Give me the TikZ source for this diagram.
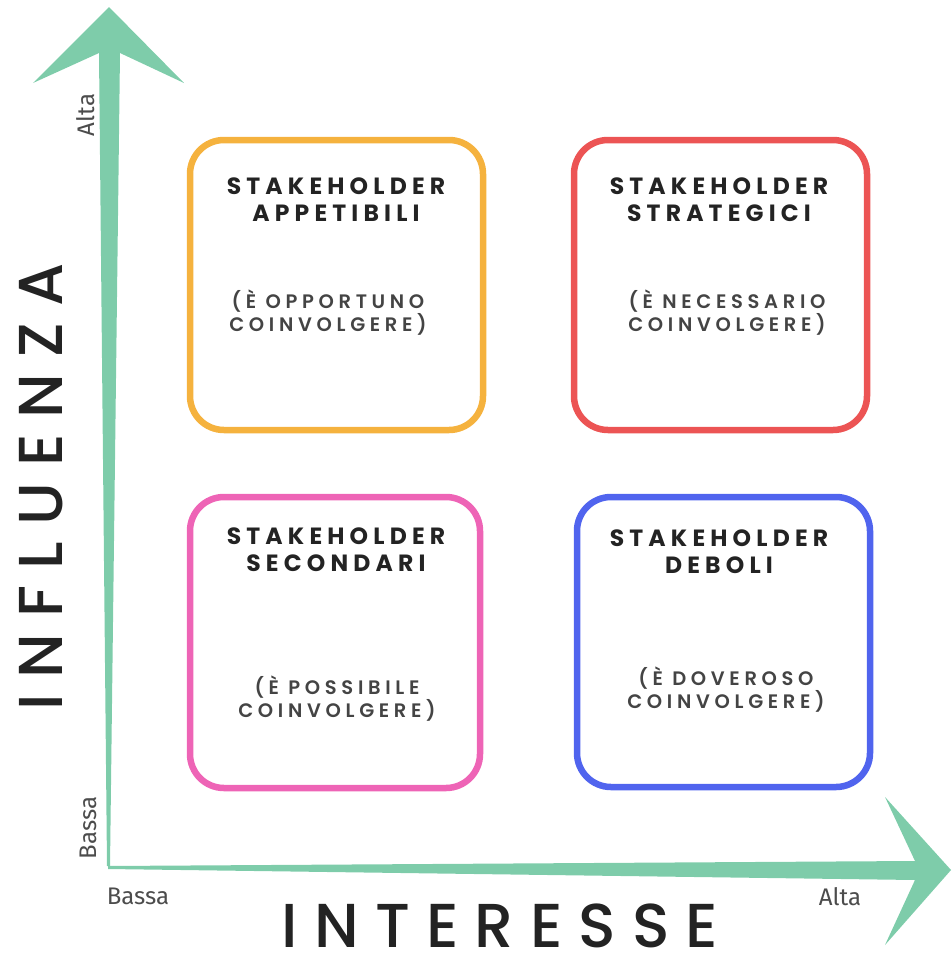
\documentclass[tikz,border=0pt]{standalone}
\usepackage{fontspec}
\setmainfont{Poppins}
\newfontfamily\boxtitlefont[LetterSpace=22]{Poppins}
\newfontfamily\boxsubfont[LetterSpace=24]{Poppins SemiBold}
\newfontfamily\axisfont[LetterSpace=26]{Poppins Medium}
\newfontfamily\smallfont{Fira Sans}
\definecolor{mint}{RGB}{126,204,170}
\definecolor{borange}{RGB}{245,178,62}
\definecolor{bred}{RGB}{236,84,84}
\definecolor{bpink}{RGB}{238,100,182}
\definecolor{bblue}{RGB}{80,100,238}
\definecolor{txt}{RGB}{35,35,35}
\tikzset{
  quad/.style={draw=#1, line width=6.5pt, rounded corners=34pt},
  ttl/.style={font=\boxtitlefont\bfseries\fontsize{23.5}{27}\selectfont, text=txt, align=center, inner sep=0pt},
  sub/.style={font=\boxsubfont\fontsize{19.5}{23}\selectfont, text=txt!85, align=center, inner sep=0pt},
  axlbl/.style={font=\axisfont\fontsize{62}{64}\selectfont, text=txt, inner sep=0pt, anchor=base},
  small/.style={font=\smallfont\fontsize{24}{26}\selectfont, text=black!70, inner sep=0pt}
}
\begin{document}
\begin{tikzpicture}[x=1pt,y=-1pt]
\useasboundingbox (0,0) rectangle (951,956);
% axes
\fill[mint] (109,7) -- (184,83) -- (120,53) -- (110,866) -- (107,866) -- (99,53) -- (33,83) -- cycle;
\fill[mint] (951,870) -- (885,797) -- (915,861) -- (108,866) -- (108,869) -- (915,880) -- (885,945) -- cycle;
% boxes
\draw[quad=borange] (190,140) rectangle (483,430);
\draw[quad=bred] (574,140) rectangle (867,430);
\draw[quad=bpink] (190,497) rectangle (480,788);
\draw[quad=bblue] (577,497) rectangle (870,787);
% titles
\node[ttl] (t1) at (336,200) {STAKEHOLDER\\APPETIBILI};
\node[ttl] (t2) at (719,200) {STAKEHOLDER\\STRATEGICI};
\node[ttl] (t3) at (336,550) {STAKEHOLDER\\SECONDARI};
\node[ttl] (t4) at (719,552) {STAKEHOLDER\\DEBOLI};
\node[sub] (s1) at (328,313) {(È OPPORTUNO\\COINVOLGERE)};
\node[sub] (s2) at (727,313) {(È NECESSARIO\\COINVOLGERE)};
\node[sub] (s3) at (337,699) {(È POSSIBILE\\COINVOLGERE)};
\node[sub] (s4) at (726,690) {(È DOVEROSO\\COINVOLGERE)};
% axis titles
\node[axlbl, rotate=90] (infl) at (62,487) {INFLUENZA};
\node[axlbl] (inter) at (500,947) {INTERESSE};
\node[small, rotate=90] (va) at (86,115) {Alta};
\node[small, rotate=90] (vb) at (88,828) {Bassa};
\node[small] (hb) at (138,896) {Bassa};
\node[small] (ha) at (840,897) {Alta};
\end{tikzpicture}
\end{document}
